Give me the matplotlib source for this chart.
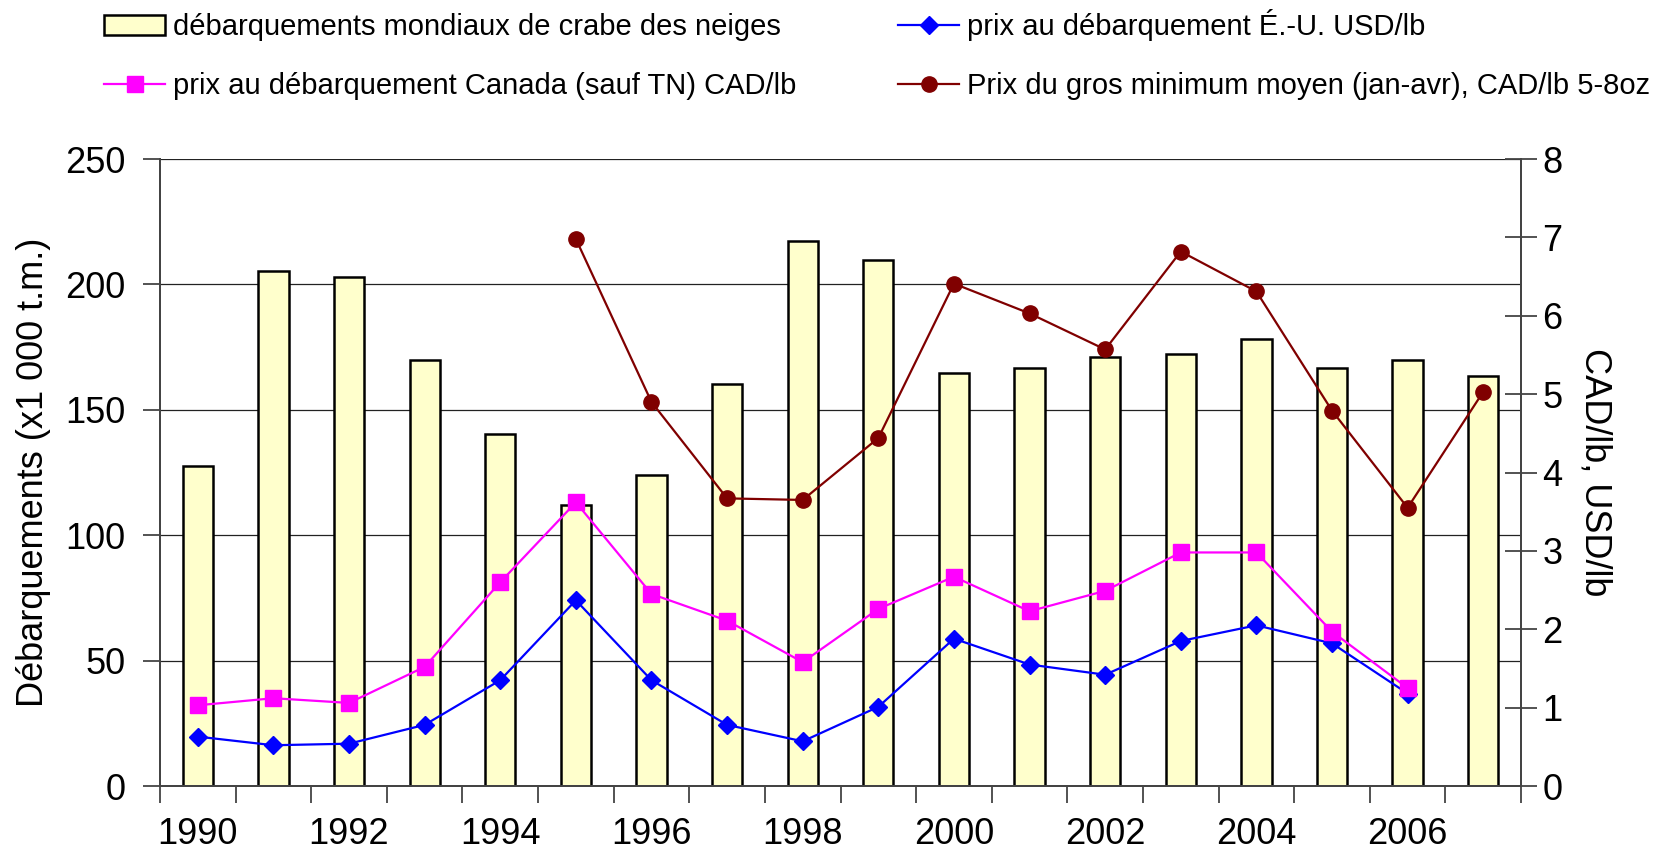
import matplotlib
matplotlib.use("Agg")
import matplotlib.pyplot as plt
import numpy as np

plt.rcParams['font.family'] = ['Liberation Sans', 'DejaVu Sans']

# annees et donnees
years = list(range(1990, 2008))
landings = [127.6, 205.4, 202.8, 170.0, 140.3, 112.2, 124.1, 160.3, 217.3,
            209.6, 164.5, 166.7, 170.9, 172.2, 178.1, 166.7, 170.0, 163.3]
us_price = [0.63, 0.52, 0.54, 0.78, 1.35, 2.37, 1.35, 0.78, 0.57,
            1.01, 1.88, 1.55, 1.42, 1.85, 2.05, 1.82, 1.18]
ca_price = [1.03, 1.12, 1.06, 1.52, 2.60, 3.62, 2.45, 2.11, 1.58,
            2.26, 2.67, 2.23, 2.49, 2.98, 2.98, 1.97, 1.25]
wholesale_years = list(range(1995, 2008))
wholesale = [6.98, 4.90, 3.67, 3.65, 4.44, 6.41, 6.03, 5.57, 6.82,
             6.31, 4.79, 3.55, 5.03]
year_labels = [str(y) if y % 2 == 0 else '' for y in years]

fig = plt.figure(figsize=(16.77, 8.55), dpi=100)
ax = fig.add_axes([0.0954, 0.0807, 0.8116, 0.7333])
ax2 = ax.twinx()

x = np.arange(len(years))
bars = ax.bar(x, landings, width=0.4, color='#FFFFCC', edgecolor='black',
              linewidth=1.8, zorder=2,
              label='débarquements mondiaux de crabe des neiges')
ax.set_xlim(-0.5, len(years) - 0.5)
ax.set_ylim(0, 250)
ax.set_yticks([0, 50, 100, 150, 200, 250])
ax.yaxis.grid(True, color='#222222', linewidth=0.9, zorder=0)
ax.set_axisbelow(True)

# lignes de prix sur l'axe de droite
xw = [years.index(y) for y in wholesale_years]
l_us, = ax2.plot(x[:len(us_price)], us_price, color='#0000FF', marker='D',
                 markersize=9.5, linewidth=1.6,
                 label='prix au débarquement É.-U. USD/lb')
l_ca, = ax2.plot(x[:len(ca_price)], ca_price, color='#FF00FF', marker='s',
                 markersize=11, linewidth=1.6,
                 label='prix au débarquement Canada (sauf TN) CAD/lb')
l_wh, = ax2.plot(xw, wholesale, color='#800000', marker='o',
                 markersize=11, linewidth=1.6,
                 label='Prix du gros minimum moyen (jan-avr), CAD/lb 5-8oz')
ax2.set_ylim(0, 8)
ax2.set_yticks(range(0, 9))

# ticks entre les categories, etiquettes sous les categories
ax.set_xticks(x)
ax.set_xticklabels(year_labels, fontsize=26)
ax.set_xticks(np.arange(-0.5, len(years), 1), minor=True)
ax.tick_params(axis='x', which='major', length=0, pad=22)
ax.tick_params(axis='x', which='minor', length=12, width=1.3, color='#444444')
ax.tick_params(axis='y', labelsize=26, length=12, width=1.3, color='#444444',
               pad=13)
ax2.tick_params(axis='y', labelsize=26, length=23, width=1.3, color='#444444',
                direction='inout', pad=4)

for a in (ax, ax2):
    a.spines['top'].set_visible(False)
    for s in ('left', 'right', 'bottom'):
        a.spines[s].set_color('#444444')
        a.spines[s].set_linewidth(1.4)

ax.set_ylabel('Débarquements (x1 000 t.m.)', fontsize=26, labelpad=10)
ax2.set_ylabel('CAD/lb, USD/lb', fontsize=26, rotation=270, labelpad=36)

fig.legend(handles=[bars, l_ca, l_us, l_wh], ncol=2, loc='upper left',
           bbox_to_anchor=(0.062, 0.989), frameon=False, fontsize=21,
           borderpad=0, borderaxespad=0,
           handlelength=2.1, handletextpad=0.25, columnspacing=3.5,
           labelspacing=1.06)

fig.savefig('out.png', dpi=100)
